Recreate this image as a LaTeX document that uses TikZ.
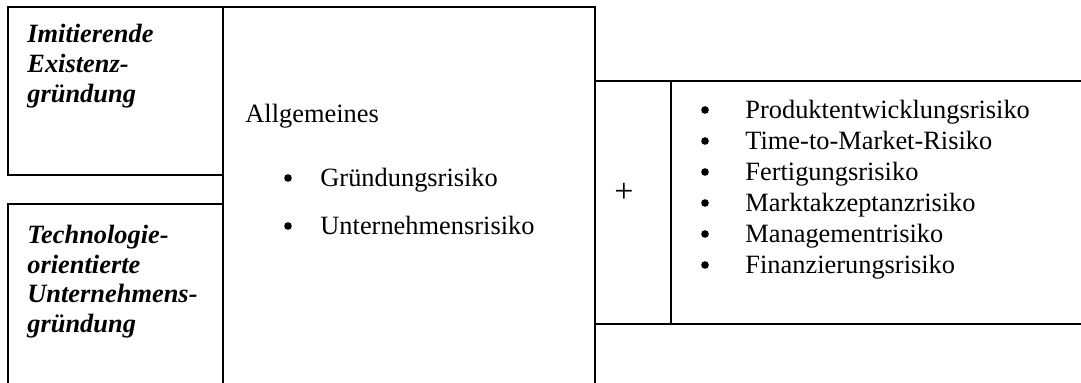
\documentclass[tikz,border=0pt]{standalone}
\usepackage{fontspec}
\setmainfont{Liberation Serif}
\begin{document}
\begin{tikzpicture}[x=0.5pt,y=-0.5pt,
  rule/.style={line width=0.8pt, line cap=rect},
  txt/.style={anchor=base west, inner sep=0pt, font=\fontsize{13.2}{15.5}\selectfont},
  bi/.style={anchor=base west, inner sep=0pt, font=\fontsize{13.2}{15.5}\selectfont\bfseries\itshape},
  dot/.style={circle, fill=black, inner sep=0pt, minimum size=3.8pt},
  plusstyle/.style={anchor=base, inner sep=0pt, font=\fontsize{17}{20}\selectfont}]
\useasboundingbox (0,0) rectangle (1081,383);
% grid coordinates
\coordinate (A) at (8,7);
\coordinate (B) at (223,7);
\coordinate (C) at (595,7);
\coordinate (D) at (8,175);
\coordinate (E) at (223,175);
\coordinate (F) at (8,204);
\coordinate (G) at (223,204);
\coordinate (Fb) at (8,383);
\coordinate (Bb) at (223,383);
\coordinate (Cb) at (595,383);
\coordinate (R1) at (595,81);
\coordinate (R2) at (1081,81);
\coordinate (R3) at (595,324);
\coordinate (R4) at (1081,324);
\coordinate (V1) at (671,81);
\coordinate (V2) at (671,324);
% lines
\draw[rule] (A) -- (C);
\draw[rule] (A) -- (D) -- (E);
\draw[rule] (B) -- (Bb);
\draw[rule] (C) -- (Cb);
\draw[rule] (Fb) -- (F) -- (G);
\draw[rule] (R1) -- (R2);
\draw[rule] (R3) -- (R4);
\draw[rule] (V1) -- (V2);
% left texts
\node[bi] (t1) at (27,43) {Imitierende};
\node[bi] (t2) at (27,73) {Existenz-};
\node[bi] (t3) at (27,103) {gründung};
\node[bi] (u1) at (27,244) {Technologie-};
\node[bi] (u2) at (27,273.5) {orientierte};
\node[bi] (u3) at (27,303) {Unternehmens-};
\node[bi] (u4) at (27,332.5) {gründung};
% middle
\node[txt] (m0) at (245,123) {Allgemeines};
\node[dot] (mb1) at (288,178) {};
\node[txt] (m1) at (320,187) {Gründungsrisiko};
\node[dot] (mb2) at (288,226) {};
\node[txt] (m2) at (320,235) {Unternehmensrisiko};
% plus
\node[plusstyle] (plus) at (624,202.5) {+};
% right list
\foreach \t [count=\i] in {Produktentwicklungsrisiko,Time-to-Market-Risiko,Fertigungsrisiko,Marktakzeptanzrisiko,Managementrisiko,Finanzierungsrisiko}{
  \node[dot] (rb\i) at (705,{79+31*\i}) {};
  \node[txt] (r\i) at (745,{88+31*\i}) {\t};
}
\end{tikzpicture}
\end{document}
